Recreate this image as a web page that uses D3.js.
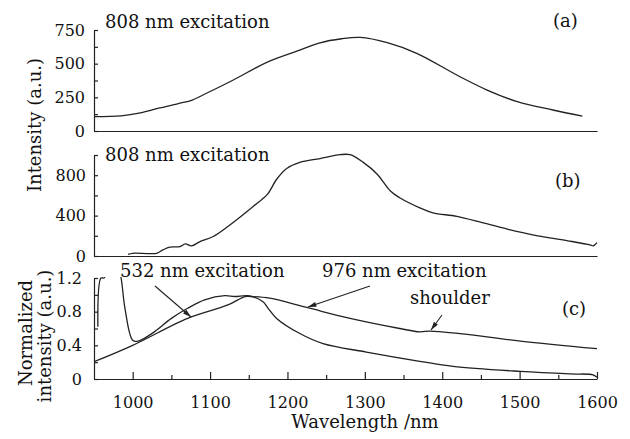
<!DOCTYPE html>
<html lang="en">

<head>
    <meta charset="UTF-8">
    <title>Emission spectra</title>
    <style>
        * {
            margin: 0;
            padding: 0;
        }

        html,
        body {
            overflow: hidden;
            background: #fff;
        }

        text {
            font-family: "DejaVu Serif", serif;
            fill: #111;
        }
    </style>
</head>

<body>
    <div id="chart"></div>
    <script src="https://cdn.jsdelivr.net/npm/d3@7"></script>
    <script>
        // panel (a): 808 nm excitation
        const wavelengthA = [950, 985, 1010, 1035, 1060, 1077, 1096, 1130, 1174, 1216, 1242, 1270, 1294, 1329, 1367, 1423, 1458, 1497, 1543, 1581]
        const intensityA = [106, 112, 134, 171, 205, 230, 282, 379, 512, 601, 655, 685, 695, 656, 577, 403, 304, 218, 156, 111]

        // panel (b): 808 nm excitation
        const wavelengthB = [994, 1000, 1031, 1039, 1048, 1061, 1068, 1076, 1087, 1104, 1122, 1139, 1156, 1174, 1186, 1199, 1216, 1242, 1268, 1281, 1298, 1316, 1333, 1345, 1371, 1388, 1419, 1453, 1484, 1517, 1561, 1591, 1595, 1600]
        const intensityB = [17, 27, 27, 60, 87, 93, 120, 100, 143, 193, 287, 387, 493, 610, 760, 867, 927, 965, 1003, 1003, 927, 810, 643, 577, 477, 427, 393, 327, 267, 210, 153, 110, 100, 133]

        // panel (c): normalized spectra
        const wavelength532 = [950, 1000, 1071, 1123, 1145, 1152, 1177, 1225, 1281, 1345, 1371, 1384, 1423, 1501, 1600]
        const normalized532 = [0.205, 0.40, 0.72, 0.88, 0.98, 0.98, 0.96, 0.85, 0.72, 0.60, 0.56, 0.57, 0.54, 0.45, 0.36]
        const wavelength976 = [955, 959, 963, 975, 985, 990, 1000, 1007, 1028, 1050, 1071, 1093, 1119, 1132, 1149, 1168, 1175, 1186, 1216, 1246, 1302, 1371, 1414, 1501, 1565, 1595, 1600]
        const normalized976 = [0.62, 1.2, 1.2, 1.6, 1.2, 0.84, 0.46, 0.45, 0.56, 0.72, 0.84, 0.94, 0.99, 0.98, 0.99, 0.92, 0.84, 0.72, 0.54, 0.42, 0.32, 0.21, 0.15, 0.09, 0.06, 0.05, 0.02]

        const ticksA = [0, 250, 500, 750]
        const minorA = [125, 375, 625]
        const ticksB = [0, 400, 800]
        const minorB = [200, 600, 1000]
        const ticksC = [0, 0.4, 0.8, 1.2]
        const minorC = [0.2, 0.6, 1.0]
        const ticksX = [1000, 1100, 1200, 1300, 1400, 1500, 1600]
        const minorX = [1050, 1150, 1250, 1350, 1450, 1550]

        function drawChart() {
            const width = 630
            const height = 439
            const svg = d3.select('#chart')
                .append('svg')
                .attr('width', width)
                .attr('height', height)
                .style('background', '#fff')

            const ink = '#222'

            const x = d3.scaleLinear().domain([950, 1600]).range([94, 597])
            const yA = d3.scaleLinear().domain([0, 750]).range([131, 30])
            const yB = d3.scaleLinear().domain([0, 1000]).range([256, 155])
            const yC = d3.scaleLinear().domain([0, 1.2]).range([379, 278])

            svg.append('defs').append('clipPath')
                .attr('id', 'clipC')
                .append('rect')
                .attr('x', x(950))
                .attr('y', yC(1.2) - 1)
                .attr('width', x(1600) - x(950) + 2)
                .attr('height', yC(0) - yC(1.2) + 1)

            svg.select('defs').append('marker')
                .attr('id', 'arrow')
                .attr('viewBox', '0 0 10 6')
                .attr('refX', 10)
                .attr('refY', 3)
                .attr('markerWidth', 9)
                .attr('markerHeight', 5)
                .attr('markerUnits', 'userSpaceOnUse')
                .attr('orient', 'auto')
                .append('path')
                .attr('d', 'M0,0 L10,3 L0,6 Z')
                .attr('fill', ink)

            function styleAxis(g) {
                g.selectAll('path, line').attr('stroke', ink).attr('stroke-width', 1.2)
                g.selectAll('text').attr('font-family', '"DejaVu Serif", serif').attr('font-size', 16).attr('fill', '#111')
            }

            function leftAxis(y, major, minor, pad, fmt) {
                svg.append('g')
                    .attr('transform', `translate(${x(950)},0)`)
                    .call(d3.axisLeft(y).tickValues(major).tickSize(-4).tickSizeOuter(0).tickPadding(pad).tickFormat(fmt))
                    .call(styleAxis)
                svg.append('g')
                    .attr('transform', `translate(${x(950)},0)`)
                    .call(d3.axisLeft(y).tickValues(minor).tickSize(-4).tickFormat(''))
                    .call(g => g.select('.domain').remove())
                    .call(styleAxis)
            }

            function baseLine(y) {
                svg.append('g')
                    .attr('transform', `translate(0,${y(0)})`)
                    .call(d3.axisBottom(x).tickValues([]).tickSizeOuter(0))
                    .call(styleAxis)
            }

            const lineOf = y => d3.line().curve(d3.curveCatmullRom.alpha(0.5)).x(d => x(d[0])).y(d => y(d[1]))

            function curve(xs, ys, y, clip) {
                const p = svg.append('path')
                    .datum(xs.map((w, i) => [w, ys[i]]))
                    .attr('d', lineOf(y))
                    .attr('fill', 'none')
                    .attr('stroke', ink)
                    .attr('stroke-width', 1.3)
                if (clip) p.attr('clip-path', 'url(#clipC)')
            }

            // panel (a)
            leftAxis(yA, ticksA, minorA, 9, d3.format('d'))
            baseLine(yA)
            curve(wavelengthA, intensityA, yA)

            // panel (b)
            leftAxis(yB, ticksB, minorB, 8, d3.format('d'))
            baseLine(yB)
            curve(wavelengthB, intensityB, yB)

            // panel (c)
            leftAxis(yC, ticksC, minorC, 12, d => d === 0 ? '0' : d3.format('.1f')(d))
            svg.append('g')
                .attr('transform', `translate(0,${yC(0)})`)
                .call(d3.axisBottom(x).tickValues(ticksX).tickSize(-7).tickSizeOuter(0).tickPadding(18).tickFormat(d3.format('d')))
                .call(styleAxis)
            svg.append('g')
                .attr('transform', `translate(0,${yC(0)})`)
                .call(d3.axisBottom(x).tickValues(minorX).tickSize(-4).tickFormat(''))
                .call(g => g.select('.domain').remove())
                .call(styleAxis)
            curve(wavelength532, normalized532, yC, true)
            curve(wavelength976, normalized976, yC, true)

            // labels
            const label = (tx, ty, s, anchor) => svg.append('text')
                .attr('x', tx).attr('y', ty)
                .attr('font-size', 18)
                .attr('text-anchor', anchor || 'start')
                .text(s)

            label(105, 28, '808 nm excitation')
            label(105, 161, '808 nm excitation')
            label(553, 27, '(a)')
            label(555, 187, '(b)')
            label(562, 315, '(c)')
            label(120, 277, '532 nm excitation')
            label(322, 277, '976 nm excitation')
            label(410, 304, 'shoulder')
            label(365, 428, 'Wavelength /nm', 'middle')

            svg.append('text')
                .attr('transform', 'translate(41,125) rotate(-90)')
                .attr('font-size', 18)
                .attr('text-anchor', 'middle')
                .text('Intensity (a.u.)')
            svg.append('text')
                .attr('transform', 'translate(32,333) rotate(-90)')
                .attr('font-size', 18)
                .attr('text-anchor', 'middle')
                .text('Normalized')
            svg.append('text')
                .attr('transform', 'translate(51,336) rotate(-90)')
                .attr('font-size', 18)
                .attr('text-anchor', 'middle')
                .text('intensity (a.u.)')

            // arrows
            const arrows = [
                [155, 286, 191, 317],
                [370, 286, 308, 307],
                [442, 315, 431, 330]
            ]
            svg.selectAll('line.arrow')
                .data(arrows)
                .join('line')
                .attr('class', 'arrow')
                .attr('x1', d => d[0]).attr('y1', d => d[1])
                .attr('x2', d => d[2]).attr('y2', d => d[3])
                .attr('stroke', ink)
                .attr('stroke-width', 1.1)
                .attr('marker-end', 'url(#arrow)')
        }

        drawChart()
    </script>
</body>

</html>
